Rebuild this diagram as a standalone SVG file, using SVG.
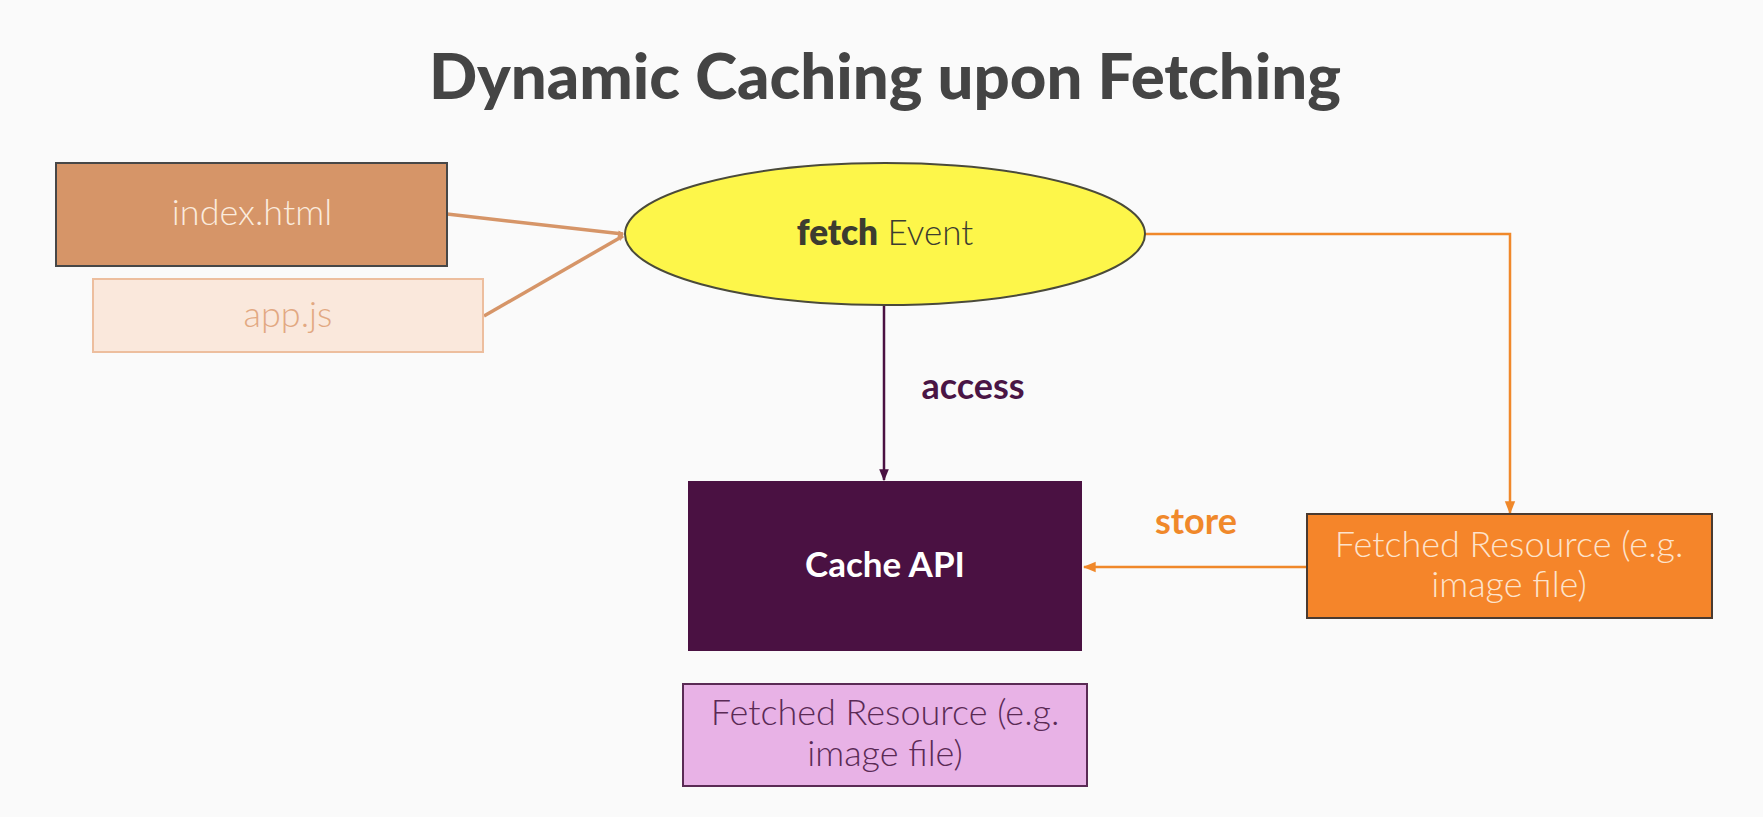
<svg xmlns="http://www.w3.org/2000/svg" width="1763" height="817" viewBox="0 0 1763 817">
<defs>
<style>
.t{font-family:Lato,"Open Sans","Liberation Sans",sans-serif;text-anchor:middle}
.light{font-weight:300}
.bold{font-weight:700}
</style>
<marker id="ah-tan" viewBox="0 0 10 10" refX="9" refY="5" markerWidth="6" markerHeight="6" orient="auto" markerUnits="userSpaceOnUse">
<path d="M1,1 L9,5 L1,9" fill="none" stroke="#D69568" stroke-width="2"/>
</marker>
<marker id="ah-pur" viewBox="0 0 10 10" refX="9" refY="5" markerWidth="12" markerHeight="12" orient="auto" markerUnits="userSpaceOnUse">
<path d="M0,1 L10,5 L0,9 Z" fill="#4A1142"/>
</marker>
<marker id="ah-or" viewBox="0 0 10 10" refX="9" refY="5" markerWidth="13" markerHeight="13" orient="auto" markerUnits="userSpaceOnUse">
<path d="M0,1 L10,5 L0,9 Z" fill="#F0882A"/>
</marker>
</defs>
<rect width="1763" height="817" fill="#FAFAFA"/>
<text class="t" x="885" y="99" font-size="63.5" font-weight="900" fill="#444444">Dynamic Caching upon Fetching</text>

<g id="connectors" fill="none">
<line x1="447" y1="214" x2="623" y2="234" stroke="#D69568" stroke-width="3.5" marker-end="url(#ah-tan)"/>
<line x1="484" y1="316" x2="623" y2="236" stroke="#D69568" stroke-width="3.5" marker-end="url(#ah-tan)"/>
<line x1="884" y1="306" x2="884" y2="480" stroke="#4A1142" stroke-width="2.5" marker-end="url(#ah-pur)"/>
<polyline points="1145,234 1510,234 1510,513" stroke="#F0882A" stroke-width="2.5" marker-end="url(#ah-or)"/>
<line x1="1306" y1="567" x2="1084" y2="567" stroke="#F0882A" stroke-width="2.5" marker-end="url(#ah-or)"/>
<text class="t bold" x="973" y="399" font-size="36" fill="#4A1545" stroke="none">access</text>
<text class="t bold" x="1196" y="534" font-size="36" fill="#F0882A" stroke="none">store</text>
</g>

<g id="index-html">
<rect x="56" y="163" width="391" height="103" fill="#D69568" stroke="#474747" stroke-width="2"/>
<text class="t light" x="252" y="225" font-size="36" fill="#FBEBDD">index.html</text>
</g>
<g id="app-js">
<rect x="93" y="279" width="390" height="73" fill="#FAE8DC" stroke="#EDBE9E" stroke-width="2"/>
<text class="t light" x="288" y="327" font-size="36" fill="#E2A882">app.js</text>
</g>
<g id="fetch-event">
<ellipse cx="885" cy="234" rx="260" ry="71" fill="#FDF64A" stroke="#4A4A3A" stroke-width="2"/>
<text class="t" x="885" y="245" font-size="35" fill="#3C3C30"><tspan font-weight="800">fetch</tspan><tspan font-weight="300"> Event</tspan></text>
</g>
<g id="cache-api">
<rect x="688" y="481" width="394" height="170" fill="#4A1142"/>
<text class="t bold" x="885" y="577" font-size="35" fill="#FFFFFF">Cache API</text>
</g>
<g id="fetched-resource-orange">
<rect x="1307" y="514" width="405" height="104" fill="#F5852A" stroke="#4A3A30" stroke-width="2"/>
<text class="t light" x="1509" y="557" font-size="36" fill="#FDE3CC">Fetched Resource (e.g.</text>
<text class="t light" x="1509" y="597" font-size="36" fill="#FDE3CC">image file)</text>
</g>
<g id="fetched-resource-pink">
<rect x="683" y="684" width="404" height="102" fill="#E8B2E6" stroke="#5A2A55" stroke-width="2"/>
<text class="t light" x="885" y="725" font-size="36" fill="#5A2A55">Fetched Resource (e.g.</text>
<text class="t light" x="885" y="766" font-size="36" fill="#5A2A55">image file)</text>
</g>
</svg>
